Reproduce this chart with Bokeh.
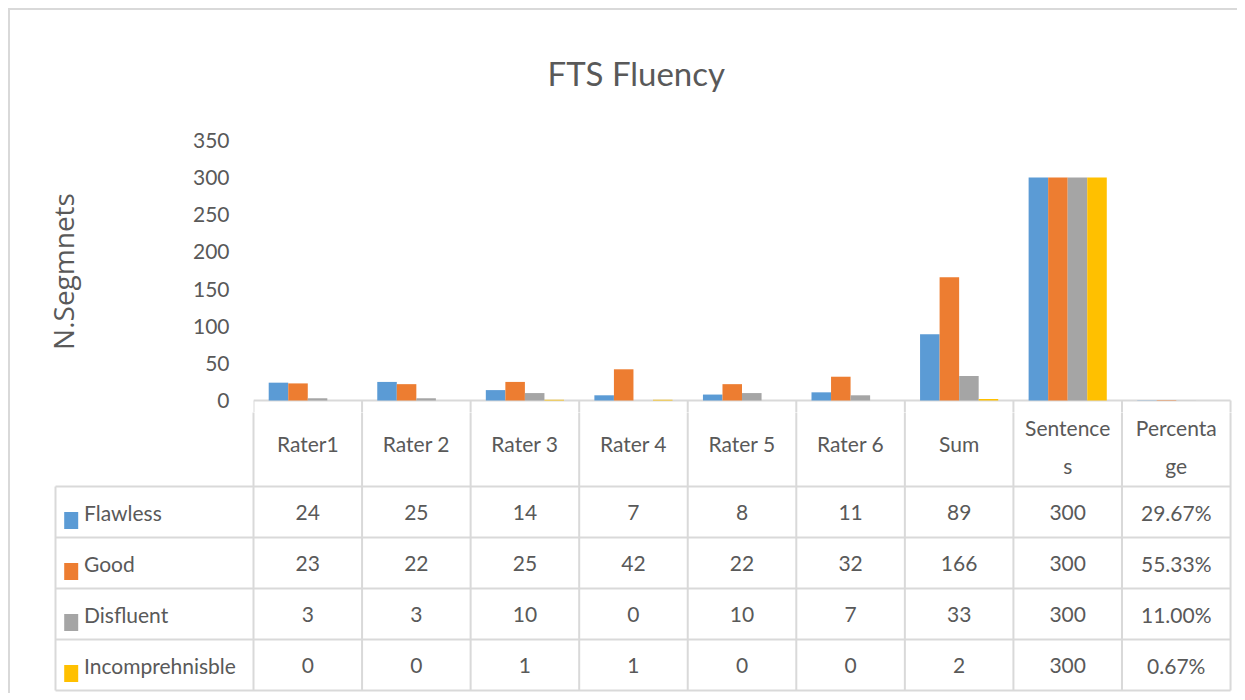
import textwrap
from bokeh.plotting import figure
from bokeh.models import Range1d, FixedTicker, Title
from bokeh.layouts import column
from bokeh.core.properties import value
from bokeh.embed import file_html
from bokeh.resources import INLINE

# ---------------- data ----------------
categories = ["Rater1", "Rater 2", "Rater 3", "Rater 4", "Rater 5", "Rater 6",
              "Sum", "Sentences", "Percentage"]
series_names = ["Flawless", "Good", "Disfluent", "Incomprehnisble"]
flawless = [24, 25, 14, 7, 8, 11, 89, 300, 0.2967]
good = [23, 22, 25, 42, 22, 32, 166, 300, 0.5533]
disfluent = [3, 3, 10, 0, 10, 7, 33, 300, 0.1100]
incomprehensible = [0, 0, 1, 1, 0, 0, 2, 300, 0.0067]
y_ticks = [0, 50, 100, 150, 200, 250, 300, 350]
title_text = "FTS Fluency"
y_label = "N.Segmnets"

series_values = [flawless, good, disfluent, incomprehensible]
colors = ["#5B9BD5", "#ED7D31", "#A5A5A5", "#FFC000"]

# ---------------- layout constants (px) ----------------
W = 1227
COL_W = 108.56
N = len(categories)
FRAME_W = 984            # category area width (incl. small right pad)
LEFT_COL_W = 198         # legend-label column of the table
LEFT_PAD = 2
P1_TOP = 120             # frame top in chart figure
ZERO = 390               # zero line position in chart figure
EXT = 12                 # chart frame extends below the zero line
PX_PER_UNIT = 0.743
HEADER_H = 86
ROW_H = 51
TABLE_H = HEADER_H + 4 * ROW_H
BOTTOM_PAD = 3
TXT = "#595959"
GRID = "#D9D9D9"
FONT = "Lato"
FS = "21px"

# ---------------- chart (top) ----------------
p1 = figure(width=W, height=ZERO + EXT,
            x_range=Range1d(0, FRAME_W / COL_W),
            y_range=Range1d(-EXT / PX_PER_UNIT, (ZERO - P1_TOP) / PX_PER_UNIT),
            x_axis_type=None, toolbar_location=None, output_backend="svg",
            min_border_left=W - FRAME_W, min_border_right=0,
            min_border_top=P1_TOP, min_border_bottom=0)
p1.frame_align = False
p1.outline_line_color = None
p1.ygrid.grid_line_color = None
p1.title = Title(text=title_text, align="left", offset=294, standoff=75,
                 text_font=FONT, text_font_size="33px", text_font_style="normal",
                 text_color=TXT)

ax = p1.yaxis[0]
ax.ticker = FixedTicker(ticks=y_ticks)
ax.axis_line_color = None
ax.major_tick_line_color = None
ax.minor_tick_line_color = None
ax.major_label_standoff = 18
ax.major_label_text_font = FONT
ax.major_label_text_font_size = FS
ax.major_label_text_color = TXT
ax.axis_label = y_label
ax.axis_label_text_font = "Open Sans"
ax.axis_label_text_font_size = "28px"
ax.axis_label_text_font_style = "normal"
ax.axis_label_text_color = TXT
ax.axis_label_standoff = 108

# top edge of the data table (lies on the value axis' zero line)
ext_units = 2 * EXT / PX_PER_UNIT
tx0 = [0] + list(range(N + 1))
ty0 = [0] + [0] * (N + 1)
tx1 = [N] + list(range(N + 1))
ty1 = [0] + [-ext_units] * (N + 1)
p1.segment(x0=tx0, y0=ty0, x1=tx1, y1=ty1, line_color=GRID, line_width=2)

BAR_W = 0.18
for k, (vals, col) in enumerate(zip(series_values, colors)):
    xs = [i + 0.5 + (k - 1.5) * BAR_W for i in range(N)]
    p1.vbar(x=xs, top=vals, bottom=0, width=BAR_W, fill_color=col, line_color=None)

# ---------------- data table (bottom) ----------------
x_lab = -LEFT_COL_W / COL_W
p2_top = TABLE_H - EXT
p2 = figure(width=W, height=p2_top + BOTTOM_PAD,
            x_range=Range1d(-(LEFT_COL_W + LEFT_PAD) / COL_W, FRAME_W / COL_W),
            y_range=Range1d(-BOTTOM_PAD, p2_top),
            x_axis_type=None, y_axis_type=None,
            toolbar_location=None, output_backend="svg",
            min_border_left=W - FRAME_W - LEFT_COL_W - LEFT_PAD, min_border_right=0,
            min_border_top=0, min_border_bottom=0)
p2.frame_align = False
p2.outline_line_color = None
p2.xgrid.visible = False
p2.ygrid.visible = False

row_tops = [TABLE_H - HEADER_H - r * ROW_H for r in range(len(series_names))]
row_lines = row_tops + [row_tops[-1] - ROW_H]
row_centers = [t - ROW_H / 2 for t in row_tops]
header_center = TABLE_H - HEADER_H / 2

x0s, y0s, x1s, y1s = [], [], [], []
for y in row_lines:
    x0s.append(x_lab); y0s.append(y); x1s.append(N); y1s.append(y)
for i in range(N + 1):
    x0s.append(i); y0s.append(row_lines[-1]); x1s.append(i); y1s.append(p2_top + 5)
x0s.append(x_lab); y0s.append(row_lines[-1]); x1s.append(x_lab); y1s.append(row_lines[0])
p2.segment(x0=x0s, y0=y0s, x1=x1s, y1=y1s, line_color=GRID, line_width=2)

header_lines = [textwrap.wrap(c, 8) for c in categories]
header_txt = ["\n".join(h) for h in header_lines]
header_y = [header_center - (3 if len(h) > 1 else 0) for h in header_lines]
p2.text(x=[i + 0.5 for i in range(N)], y=header_y, text=header_txt,
        text_align="center", text_baseline="middle", text_font=value(FONT),
        text_font_size=FS, text_color=TXT, text_line_height=1.5)

def fmt(v, i):
    return f"{v * 100:.2f}%" if categories[i] == "Percentage" else f"{int(v)}"

tx, ty, tt = [], [], []
for r, vals in enumerate(series_values):
    for i, v in enumerate(vals):
        tx.append(i + 0.5); ty.append(row_centers[r]); tt.append(fmt(v, i))
p2.text(x=tx, y=ty, text=tt, text_align="center", text_baseline="middle",
        text_font=value(FONT), text_font_size=FS, text_color=TXT)

p2.text(x=[x_lab + 28.5 / COL_W] * len(series_names), y=row_centers, text=series_names,
        text_align="left", text_baseline="middle", text_font=value(FONT),
        text_font_size=FS, text_color=TXT)
p2.rect(x=[x_lab + 15.7 / COL_W] * len(series_names), y=[c - 8.5 for c in row_centers],
        width=14, height=17, width_units="screen", height_units="screen",
        fill_color=colors, line_color=None)

layout = column(p1, p2, styles={"margin-left": "8px", "margin-top": "8px",
                                "border-top": f"2px solid {GRID}",
                                "border-left": f"2px solid {GRID}"})

open("out.html", "w").write(file_html(layout, INLINE))
